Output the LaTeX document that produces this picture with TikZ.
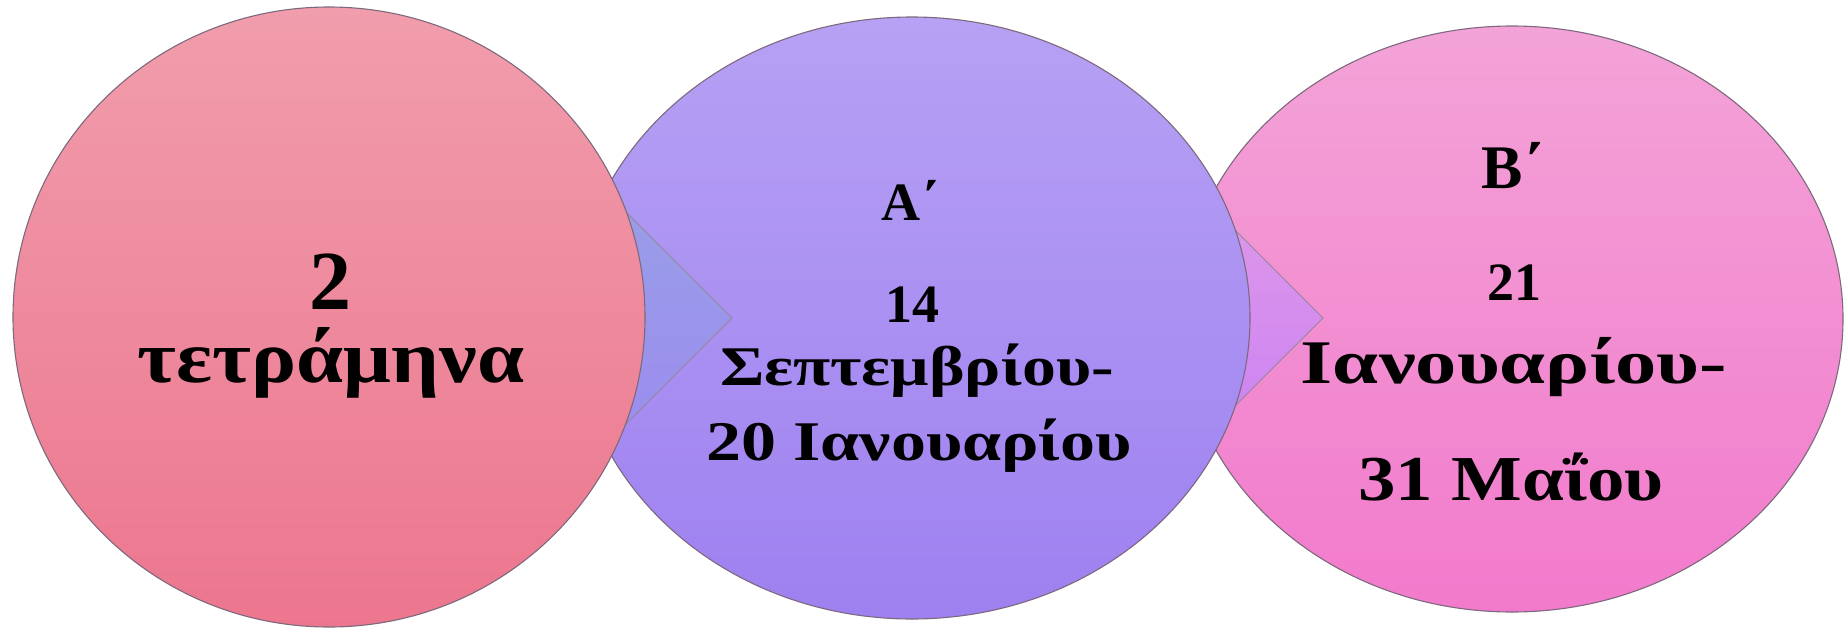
\documentclass[tikz,border=0pt]{standalone}
\usepackage{fontspec}
\usepackage{graphicx}
\setmainfont{Liberation Serif}
\usetikzlibrary{shapes.geometric}
\definecolor{c1top}{RGB}{241,157,172}
\definecolor{c1bot}{RGB}{236,118,142}
\definecolor{c2top}{RGB}{182,161,244}
\definecolor{c2bot}{RGB}{158,128,240}
\definecolor{c3top}{RGB}{243,163,215}
\definecolor{c3bot}{RGB}{242,122,204}
\definecolor{t1top}{RGB}{152,158,232}
\definecolor{t1bot}{RGB}{156,140,238}
\definecolor{t2top}{RGB}{222,152,234}
\definecolor{t2bot}{RGB}{204,130,242}
\definecolor{edge}{RGB}{125,105,125}
\newcommand{\widetxt}[2]{\scalebox{#1}[1]{#2}}
\begin{document}
\begin{tikzpicture}[x=1pt,y=-1pt,
  disc/.style={ellipse,draw=edge,line width=1.1pt,inner sep=0pt,outer sep=0pt},
  chev/.style={draw=edge!80!white,line width=0.9pt,line join=miter},
  lbl/.style={anchor=base,text=black,inner sep=0pt}]
\useasboundingbox (0,0) rectangle (1844,629);
% circle 3 (bottom layer)
\node[disc,top color=c3top,bottom color=c3bot,minimum width=662pt,minimum height=586pt] (c3) at (1512,319) {};
% chevron 2
\coordinate (b2a) at (1205,200);
\coordinate (b2t) at (1323,318);
\coordinate (b2b) at (1205,436);
\path[chev,top color=t2top,bottom color=t2bot] (b2a) -- (b2t) -- (b2b) -- cycle;
% circle 2
\node[disc,top color=c2top,bottom color=c2bot,minimum width=676pt,minimum height=602pt] (c2) at (912,318) {};
% chevron 1
\coordinate (b1a) at (614,200);
\coordinate (b1t) at (732,318);
\coordinate (b1b) at (614,436);
\path[chev,top color=t1top,bottom color=t1bot] (b1a) -- (b1t) -- (b1b) -- cycle;
% circle 1
\node[disc,top color=c1top,bottom color=c1bot,minimum width=632pt,minimum height=620pt] (c1) at (329,317) {};
% texts circle 1
\node[lbl,font=\fontsize{84}{84}\selectfont\bfseries] (t1a) at (330,309) {2};
\node[lbl,font=\fontsize{74}{74}\selectfont\bfseries] (t1b) at (331,382) {\widetxt{1.14}{τετράμηνα}};
% texts circle 2
\node[lbl,font=\fontsize{54}{54}\selectfont\bfseries] (t2a) at (910,220) {Α΄};
\node[lbl,font=\fontsize{54}{54}\selectfont\bfseries] (t2b) at (912,322) {14};
\node[lbl,font=\fontsize{56}{56}\selectfont\bfseries] (t2c) at (917,385) {\widetxt{1.21}{Σεπτεμβρίου-}};
\node[lbl,font=\fontsize{56}{56}\selectfont\bfseries] (t2d) at (919,460) {\widetxt{1.25}{20 Ιανουαρίου}};
% texts circle 3
\node[lbl,font=\fontsize{62}{62}\selectfont\bfseries] (t3a) at (1512,188) {Β΄};
\node[lbl,font=\fontsize{54}{54}\selectfont\bfseries] (t3b) at (1514,300) {21};
\node[lbl,font=\fontsize{62}{62}\selectfont\bfseries] (t3c) at (1514,383) {\widetxt{1.33}{Ιανουαρίου-}};
\node[lbl,font=\fontsize{64}{64}\selectfont\bfseries] (t3d) at (1511,500) {\widetxt{1.17}{31 Μαΐου}};
\end{tikzpicture}
\end{document}
